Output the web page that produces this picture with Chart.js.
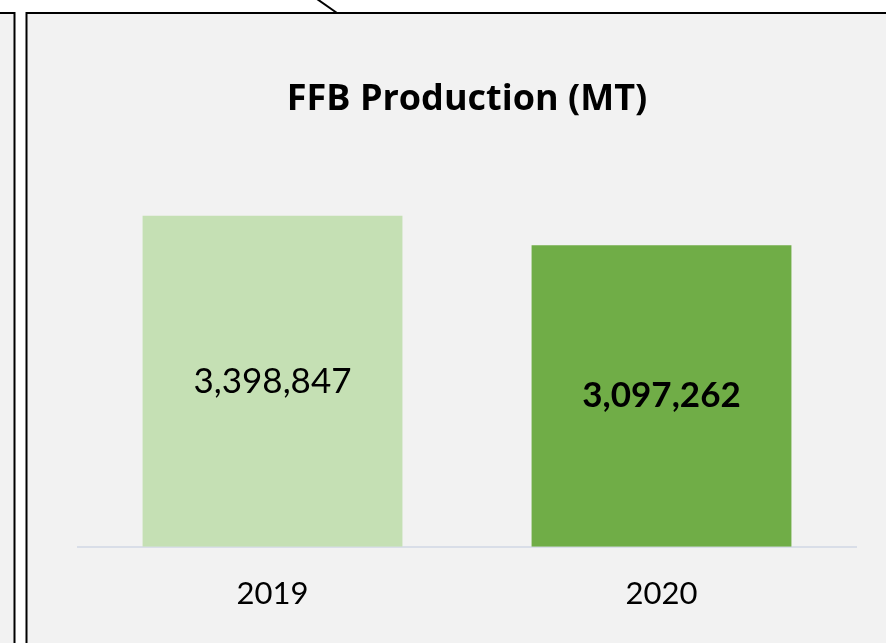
<!DOCTYPE html>
<html>
<head>
<meta charset="utf-8">
<script src="https://cdn.jsdelivr.net/npm/chart.js@4.4.0/dist/chart.umd.min.js"></script>
<style>
html,body{margin:0;padding:0;background:#ffffff;}
#wrap{position:relative;width:886px;height:643px;}
canvas{display:block;}
</style>
</head>
<body>
<div id="wrap"><canvas id="c" width="886" height="643"></canvas></div>
<script>
const categories = ["2019", "2020"];
const values = [3398847, 3097262];
const barColors = ["#c5e0b4", "#70ad47"];
const labelBold = [false, true];
const chartTitle = "FFB Production (MT)";

const FONT = "Lato, 'Open Sans', sans-serif";
const TITLE_FONT = "'Open Sans', Lato, sans-serif";

const framePlugin = {
  id: 'frame',
  beforeDraw(chart) {
    const ctx = chart.ctx;
    ctx.save();
    ctx.fillStyle = '#ffffff';
    ctx.fillRect(0, 0, 886, 643);
    ctx.fillStyle = '#f2f2f2';
    ctx.fillRect(0, 13, 14, 630);
    ctx.fillRect(26, 13, 860, 630);
    ctx.strokeStyle = '#000000';
    ctx.lineWidth = 2;
    ctx.beginPath();
    ctx.moveTo(0, 13); ctx.lineTo(14.5, 13); ctx.lineTo(14.5, 643);
    ctx.stroke();
    ctx.beginPath();
    ctx.moveTo(26.5, 643); ctx.lineTo(26.5, 13); ctx.lineTo(886, 13);
    ctx.stroke();
    ctx.beginPath();
    ctx.moveTo(317, -1); ctx.lineTo(337, 13);
    ctx.stroke();
    ctx.restore();
  }
};

const valueLabelPlugin = {
  id: 'valueLabels',
  afterDatasetsDraw(chart) {
    const ctx = chart.ctx;
    const meta = chart.getDatasetMeta(0);
    ctx.save();
    ctx.fillStyle = '#000000';
    ctx.textAlign = 'center';
    ctx.textBaseline = 'middle';
    meta.data.forEach((bar, i) => {
      const v = chart.data.datasets[0].data[i];
      ctx.font = (labelBold[i] ? 'bold ' : '') + '35px ' + FONT;
      const yMid = (bar.y + bar.base) / 2;
      ctx.fillText(v.toLocaleString('en-US'), bar.x, yMid);
    });
    ctx.restore();
  }
};

new Chart(document.getElementById('c'), {
  type: 'bar',
  data: {
    labels: categories,
    datasets: [{
      data: values,
      backgroundColor: barColors,
      borderWidth: 0,
      categoryPercentage: 1.0,
      barPercentage: 0.668
    }]
  },
  options: {
    responsive: false,
    animation: false,
    devicePixelRatio: 1,
    layout: { padding: { left: 78, right: 30, top: 14, bottom: 9 } },
    plugins: {
      legend: { display: false },
      tooltip: { enabled: false },
      title: {
        display: true,
        text: chartTitle,
        color: '#000000',
        font: { family: TITLE_FONT, size: 36, weight: 'bold', lineHeight: 1.2 },
        padding: { top: 64, bottom: 36 }
      }
    },
    scales: {
      x: {
        grid: { display: false },
        border: { display: true, color: '#d9dee8', width: 2 },
        ticks: { color: '#000000', font: { family: FONT, size: 31 }, padding: 21 }
      },
      y: {
        display: false,
        min: 0,
        max: 4000000
      }
    }
  },
  plugins: [framePlugin, valueLabelPlugin]
});
</script>
</body>
</html>
